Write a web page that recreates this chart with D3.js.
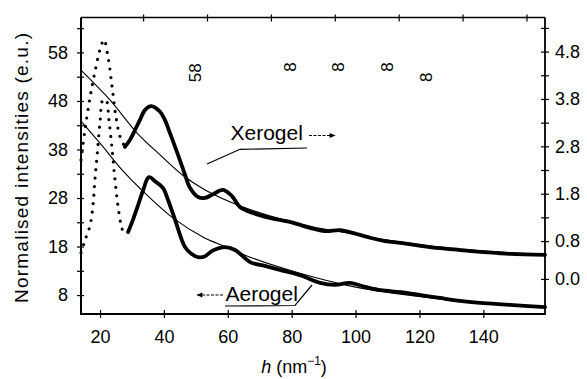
<!DOCTYPE html>
<html><head><meta charset="utf-8">
<script src="https://cdn.jsdelivr.net/npm/d3@7/dist/d3.min.js"></script>
<style>
body{margin:0;background:#fff}
svg{display:block}
text{font-family:"Liberation Sans",Arial,Helvetica,sans-serif;fill:#000}
</style>
</head><body>
<svg id="chart" width="587" height="379"></svg>
<script>
// ---- data ----
const xTicks = [20, 40, 60, 80, 100, 120, 140];
const topTicks = [33.5, 53.5, 73.5, 93.5, 113.5, 133.5, 153.5];
const leftTicks = [8, 18, 28, 38, 48, 58];
const leftMinor = [13, 23, 33, 43, 53, 63];
const rightTicks = [0.0, 0.8, 1.8, 2.8, 3.8, 4.8];
const rightMinor = [1.3, 2.3, 3.3, 4.3, 5.3];

// Xerogel (right axis)
const xerogel = [
  [14.05,2.51],[15.3,3.15],[16.9,3.84],[18.4,4.37],[20.0,4.84],[21.25,5.05],[22.5,4.69],
  [23.8,4.05],[25.0,3.42],[26.3,3.00],[27.8,2.79],[29.4,2.94],[31.0,3.15],[32.5,3.36],
  [34.1,3.57],[36.0,3.65],[38.8,3.53],[40.3,3.36],[41.9,3.08],[43.5,2.79],[45.0,2.51],
  [46.6,2.20],[48.2,1.92],[50.7,1.73],[52.9,1.71],[55.4,1.79],[58.5,1.88],[61.3,1.75],
  [63.8,1.52],[68.5,1.38],[73.2,1.29],[79.7,1.20],[85.7,1.08],[90.4,1.01],[95.1,1.03],
  [98.2,0.99],[104.5,0.87],[109.2,0.80],[114.1,0.76],[120.4,0.70],[126.4,0.65],
  [132.7,0.61],[139.0,0.57],[148.3,0.53],[159.3,0.51]
];
// Aerogel (left axis)
const aerogel = [
  [14.05,16.7],[15.3,19.3],[16.9,22.4],[17.8,26.5],[18.4,31.7],[19.1,36.8],[20.0,43.6],
  [20.9,48.2],[21.9,48.2],[22.8,44.1],[23.8,37.9],[24.7,31.7],[25.6,26.5],[26.6,22.4],
  [27.5,20.4],[28.8,21.0],[30.3,23.5],[31.9,26.5],[33.5,29.6],[35.3,32.3],[37.5,31.3],
  [39.7,30.1],[41.3,27.6],[43.5,23.5],[46.6,17.9],[48.8,16.4],[50.7,15.8],[52.9,16.0],
  [55.1,17.1],[59.1,17.9],[62.3,17.3],[67.0,14.8],[71.6,14.0],[76.3,13.2],[82.6,12.1],
  [88.9,10.5],[93.6,10.1],[98.2,10.5],[103.0,9.7],[107.9,9.0],[114.1,8.6],[120.4,8.0],
  [126.4,7.4],[132.7,6.8],[139.0,6.4],[148.3,6.0],[159.3,5.5]
];
// fitted curves
const xerogelFit = [
  [14.05,4.41],[23.1,3.78],[31.6,3.08],[38.8,2.62],[45.7,2.20],[52.9,1.88],[64.8,1.52],
  [82.6,1.16],[98.2,0.96],[114.1,0.78],[132.7,0.63],[159.3,0.51]
];
const aerogelFit = [
  [14.05,43.85],[20.0,39.3],[26.9,33.8],[33.1,29.6],[42.8,23.9],[52.9,19.7],[56.6,18.7],
  [67.0,15.8],[82.6,12.5],[98.2,9.9],[114.1,8.2],[132.7,6.8],[159.3,5.5]
];
// small marks near the top of the plot (x, left-axis value)
const marks = [
  {t:"58", x:49.9, y:53.8},
  {t:"8", x:79.6, y:55.0},
  {t:"8", x:94.8, y:55.0},
  {t:"8", x:110.0, y:55.0},
  {t:"8", x:122.2, y:52.9}
];

// ---- layout ----
const L = 81, R = 545, T = 17.5, B = 314;
const svg = d3.select("#chart");
const x = d3.scaleLinear().domain([14.05, 159.3]).range([L, R]);
const yL = d3.scaleLinear().domain([4.1, 65.2]).range([B, T]);
const yR = d3.scaleLinear().domain([-0.74, 5.52]).range([B, T]);

// frame
const frame = svg.append("g").attr("stroke", "#000").attr("fill", "none");
frame.append("line").attr("x1", L).attr("x2", L).attr("y1", T).attr("y2", B).attr("stroke-width", 2);
frame.append("line").attr("x1", L - 1).attr("x2", R).attr("y1", B).attr("y2", B).attr("stroke-width", 2);
frame.append("line").attr("x1", R).attr("x2", R).attr("y1", T).attr("y2", B + 1).attr("stroke-width", 1.8);
frame.append("line").attr("x1", L).attr("x2", R).attr("y1", T).attr("y2", T).attr("stroke-width", 1.4);

function styleAxis(g) {
  g.select(".domain").remove();
  g.selectAll("line").attr("stroke", "#000").attr("stroke-width", 1.2);
  g.selectAll("text").attr("font-size", 18).attr("fill", "#000");
}
const gBottom = svg.append("g").attr("transform", `translate(0,${B})`)
  .call(d3.axisBottom(x).tickValues(xTicks).tickSizeInner(4).tickSizeOuter(0).tickPadding(12).tickFormat(d3.format("d")));
styleAxis(gBottom);
gBottom.selectAll(".tick line").attr("y1", -4);

const gTop = svg.append("g").attr("transform", `translate(0,${T})`)
  .call(d3.axisTop(x).tickValues(topTicks).tickSizeInner(3).tickSizeOuter(0).tickFormat(""));
styleAxis(gTop);
gTop.selectAll(".tick line").attr("y1", 4);

const gLeft = svg.append("g").attr("transform", `translate(${L},0)`)
  .call(d3.axisLeft(yL).tickValues(leftTicks).tickSizeInner(4).tickSizeOuter(0).tickPadding(9).tickFormat(d3.format("d")));
styleAxis(gLeft);
gLeft.selectAll(".tick line").attr("x1", 3);
const gLeftM = svg.append("g").attr("transform", `translate(${L},0)`)
  .call(d3.axisLeft(yL).tickValues(leftMinor.filter(v => v < 65)).tickSizeInner(4).tickSizeOuter(0).tickFormat(""));
styleAxis(gLeftM);
gLeftM.selectAll(".tick line").attr("x1", 3);

const gRight = svg.append("g").attr("transform", `translate(${R},0)`)
  .call(d3.axisRight(yR).tickValues(rightTicks).tickSizeInner(4).tickSizeOuter(0).tickPadding(6).tickFormat(d3.format(".1f")));
styleAxis(gRight);
gRight.selectAll(".tick line").attr("x1", -4);
const gRightM = svg.append("g").attr("transform", `translate(${R},0)`)
  .call(d3.axisRight(yR).tickValues(rightMinor).tickSizeInner(4).tickSizeOuter(0).tickFormat(""));
styleAxis(gRightM);
gRightM.selectAll(".tick line").attr("x1", -4);

// curves
const dottedUntil = 27.8;
function drawSeries(data, ys) {
  const line = d3.line().x(d => x(d[0])).y(d => ys(d[1])).curve(d3.curveCatmullRom.alpha(0.5));
  const dotted = data.filter(d => d[0] <= dottedUntil);
  const solid = data.filter(d => d[0] >= dottedUntil);
  svg.append("path").attr("d", line(dotted)).attr("fill", "none").attr("stroke", "#000")
    .attr("stroke-width", 3.2).attr("stroke-linecap", "round").attr("stroke-dasharray", "0,8.5");
  svg.append("path").attr("d", line(solid)).attr("fill", "none").attr("stroke", "#000")
    .attr("stroke-width", 3.8).attr("stroke-linejoin", "round").attr("stroke-linecap", "round");
}
function drawFit(data, ys) {
  const line = d3.line().x(d => x(d[0])).y(d => ys(d[1])).curve(d3.curveCatmullRom.alpha(0.5));
  svg.append("path").attr("d", line(data)).attr("fill", "none").attr("stroke", "#000").attr("stroke-width", 1.1);
}
drawFit(xerogelFit, yR);
drawFit(aerogelFit, yL);
drawSeries(xerogel, yR);
drawSeries(aerogel, yL);

// marks at top
svg.selectAll("text.mark").data(marks).join("text").attr("class", "mark")
  .attr("transform", d => `translate(${x(d.x)},${yL(d.y)}) rotate(-90)`)
  .attr("text-anchor", "middle").attr("dominant-baseline", "central")
  .attr("font-size", 17).text(d => d.t);

// annotations
const defs = svg.append("defs");
defs.append("marker").attr("id", "ah").attr("viewBox", "0 0 10 10").attr("refX", 9).attr("refY", 5)
  .attr("markerWidth", 7).attr("markerHeight", 6).attr("markerUnits", "userSpaceOnUse").attr("orient", "auto")
  .append("path").attr("d", "M0,1 L10,5 L0,9 Z").attr("fill", "#000");

svg.append("text").attr("x", 230.5).attr("y", 139.5).attr("font-size", 21).text("Xerogel");
svg.append("line").attr("x1", 309).attr("y1", 135.5).attr("x2", 335).attr("y2", 135.5)
  .attr("stroke", "#000").attr("stroke-width", 1.2).attr("stroke-dasharray", "3,1.5").attr("marker-end", "url(#ah)");
svg.append("path").attr("d", "M207,164 L240,149.3 L307,148").attr("fill", "none").attr("stroke", "#000").attr("stroke-width", 1.2);

svg.append("text").attr("x", 225.5).attr("y", 300.7).attr("font-size", 21).text("Aerogel");
svg.append("line").attr("x1", 223).attr("y1", 295).attr("x2", 197).attr("y2", 295)
  .attr("stroke", "#000").attr("stroke-width", 1.2).attr("stroke-dasharray", "3,1.5").attr("marker-end", "url(#ah)");
svg.append("path").attr("d", "M225,306 L295,305.5 L312,285").attr("fill", "none").attr("stroke", "#000").attr("stroke-width", 1.2);

// axis titles
svg.append("text").attr("transform", "translate(28,168) rotate(-90)").attr("text-anchor", "middle")
  .attr("font-size", 19).attr("textLength", 270).attr("lengthAdjust", "spacing")
  .text("Normalised intensities (e.u.)");
const xt = svg.append("text").attr("x", 294).attr("y", 373).attr("text-anchor", "middle").attr("font-size", 18);
xt.append("tspan").attr("font-style", "italic").text("h");
xt.append("tspan").text(" (nm");
xt.append("tspan").attr("font-size", 12).attr("dy", -8).text("−1");
xt.append("tspan").attr("dy", 8).text(")");
</script>
</body></html>
